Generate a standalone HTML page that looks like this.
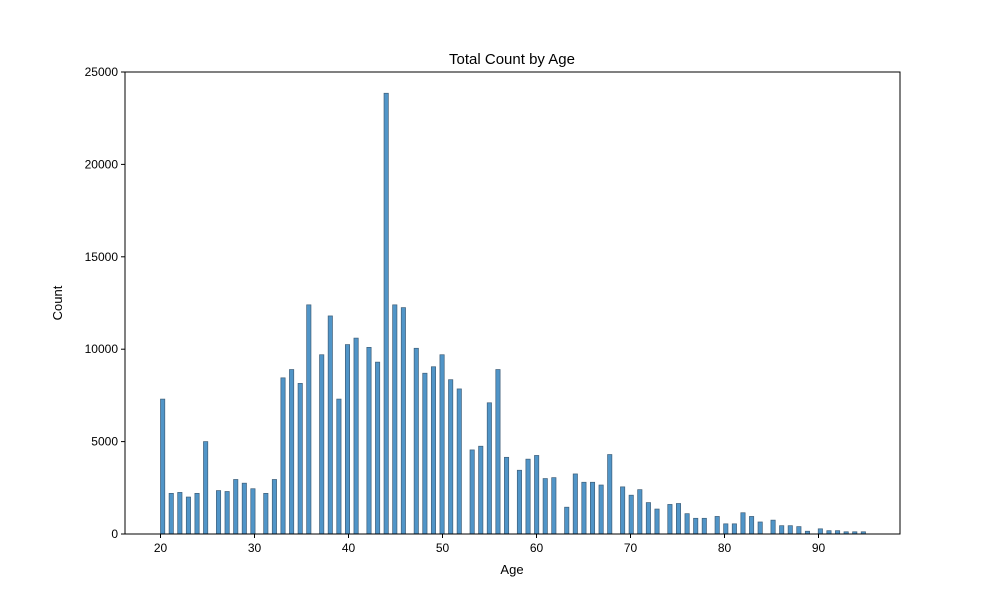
<!DOCTYPE html>
<html><head><meta charset="utf-8"><style>
body{margin:0;background:#fff;font-family:"Liberation Sans","DejaVu Sans",sans-serif}
</style></head><body>
<svg id="chart" width="1000" height="600" xmlns="http://www.w3.org/2000/svg">
<text x="512" y="64" font-size="15" text-anchor="middle">Total Count by Age</text>
<text x="512" y="574" font-size="13" text-anchor="middle">Age</text>
<text transform="translate(62,303) rotate(-90)" font-size="13" text-anchor="middle">Count</text>
<g id="bars"></g>
<g id="axes"></g>
</svg>
<script>
const ages=[20,21,22,23,24,25,26,27,28,29,30,31,32,33,34,35,36,37,38,39,40,41,42,43,44,45,46,47,48,49,50,51,52,53,54,55,56,57,58,59,60,61,62,63,64,65,66,67,68,69,70,71,72,73,74,75,76,77,78,79,80,81,82,83,84,85,86,87,88,89,90,91,92,93,94,95];
const counts=[7300,2200,2250,2000,2200,5000,2350,2300,2950,2750,2450,2200,2950,8450,8900,8150,12400,9700,11800,7300,10250,10600,10100,9300,23850,12400,12250,10050,8700,9050,9700,8350,7850,4550,4750,7100,8900,4150,3450,4050,4250,3000,3050,1450,3250,2800,2800,2650,4300,2550,2100,2400,1700,1350,1600,1650,1100,850,850,950,550,550,1150,950,650,750,450,450,400,150,280,180,180,120,120,120];
const yTicks=[0,5000,10000,15000,20000,25000];
const xTicks=[20,30,40,50,60,70,80,90];
const NS="http://www.w3.org/2000/svg";
const L=125,R=900,T=72,B=534;
const xmin=20+(L-160.5)/9.4, xmax=20+(R-160.5)/9.4;
const X=v=>L+(v-xmin)/(xmax-xmin)*(R-L);
const Y=v=>B-v/25000*(B-T);
const nb=164, amin=Math.min(...ages), amax=Math.max(...ages), bw=(amax-amin)/nb;
const bars=document.getElementById('bars'), axes=document.getElementById('axes');
function mk(tag,attrs,parent){const e=document.createElementNS(NS,tag);for(const k in attrs)e.setAttribute(k,attrs[k]);parent.appendChild(e);return e;}
ages.forEach((a,i)=>{
  let b=Math.floor((a-amin)/bw+1e-9); if(b>=nb)b=nb-1;
  const x0=X(amin+b*bw), x1=X(amin+(b+1)*bw);
  const r=mk('rect',{x:x0,y:Y(counts[i]),width:x1-x0,height:Y(0)-Y(counts[i]),fill:'#5095c8',stroke:'#3f5e78','stroke-width':0.7},bars);
  
  
});
const fr=mk('rect',{x:L,y:T,width:R-L,height:B-T,fill:'none',stroke:'#000','stroke-width':1},axes);


yTicks.forEach(v=>{
  mk('line',{x1:L-4,x2:L,y1:Y(v),y2:Y(v),stroke:'#000'},axes);
  const t=mk('text',{x:L-7,y:Y(v)+4,'font-size':12,'text-anchor':'end'},axes);t.textContent=v;
  
  
});
xTicks.forEach(v=>{
  mk('line',{x1:X(v),x2:X(v),y1:B,y2:B+4,stroke:'#000'},axes);
  const t=mk('text',{x:X(v),y:B+18,'font-size':12,'text-anchor':'middle'},axes);t.textContent=v;
  
  
});
</script>
</body></html>
